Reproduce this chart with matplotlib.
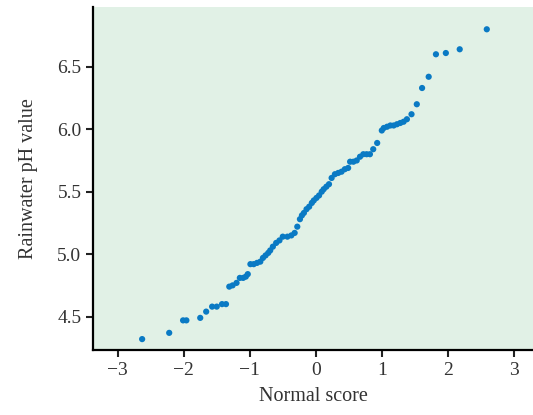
import matplotlib
matplotlib.use("Agg")
import matplotlib.pyplot as plt

# normal scores and pH values
normal_score = [-2.63, -2.22, -2.01, -1.96, -1.75, -1.66, -1.57, -1.50, -1.42, -1.36,
                -1.31, -1.26, -1.20, -1.15, -1.10, -1.06, -1.03, -0.99, -0.94, -0.89,
                -0.84, -0.80, -0.76, -0.72, -0.69, -0.65, -0.60, -0.55, -0.50, -0.43,
                -0.37, -0.32, -0.28, -0.24, -0.21, -0.18, -0.14, -0.10, -0.06, -0.03,
                0.01, 0.05, 0.09, 0.12, 0.16, 0.20, 0.24, 0.29, 0.34, 0.39,
                0.44, 0.49, 0.52, 0.57, 0.62, 0.67, 0.72, 0.77, 0.82, 0.87,
                0.93, 1.00, 1.03, 1.08, 1.13, 1.18, 1.23, 1.28, 1.33, 1.38,
                1.45, 1.53, 1.61, 1.71, 1.82, 1.97, 2.18, 2.59]
ph_value = [4.32, 4.37, 4.47, 4.47, 4.49, 4.54, 4.58, 4.58, 4.60, 4.60,
            4.74, 4.75, 4.77, 4.81, 4.81, 4.82, 4.84, 4.92, 4.92, 4.93,
            4.94, 4.97, 4.99, 5.01, 5.03, 5.06, 5.09, 5.11, 5.14, 5.14,
            5.15, 5.17, 5.22, 5.28, 5.31, 5.33, 5.36, 5.38, 5.41, 5.43,
            5.45, 5.47, 5.50, 5.52, 5.54, 5.56, 5.61, 5.64, 5.65, 5.66,
            5.68, 5.69, 5.74, 5.74, 5.75, 5.78, 5.80, 5.80, 5.80, 5.84,
            5.89, 5.99, 6.01, 6.02, 6.03, 6.03, 6.04, 6.05, 6.06, 6.08,
            6.12, 6.20, 6.33, 6.42, 6.60, 6.61, 6.64, 6.80]

x_ticks = [-3, -2, -1, 0, 1, 2, 3]
y_ticks = [4.5, 5.0, 5.5, 6.0, 6.5]

plt.rcParams['font.family'] = ['Liberation Serif', 'DejaVu Serif']

fig = plt.figure(figsize=(5.33, 4.15), dpi=100)
ax = fig.add_axes([0.175, 0.157, 0.825, 0.826])
ax.set_facecolor('#e1f1e6')

ax.scatter(normal_score, ph_value, s=20, color='#0a7ac4', edgecolors='none', zorder=3)

ax.set_xlim(-3.37, 3.29)
ax.set_ylim(4.234, 6.978)
ax.set_xticks(x_ticks)
ax.set_yticks(y_ticks)
ax.set_yticklabels(['%.1f' % v for v in y_ticks])

for s in ['top', 'right']:
    ax.spines[s].set_visible(False)
for s in ['left', 'bottom']:
    ax.spines[s].set_linewidth(1.6)
ax.tick_params(direction='out', length=5, width=1.5, labelsize=14, colors='#222222',
               labelcolor='#333333')

ax.set_xlabel('Normal score', fontsize=14.5, color='#333333', labelpad=6)
ax.set_ylabel('Rainwater pH value', fontsize=14.5, color='#333333', labelpad=14)

fig.savefig('out.png', dpi=100)
